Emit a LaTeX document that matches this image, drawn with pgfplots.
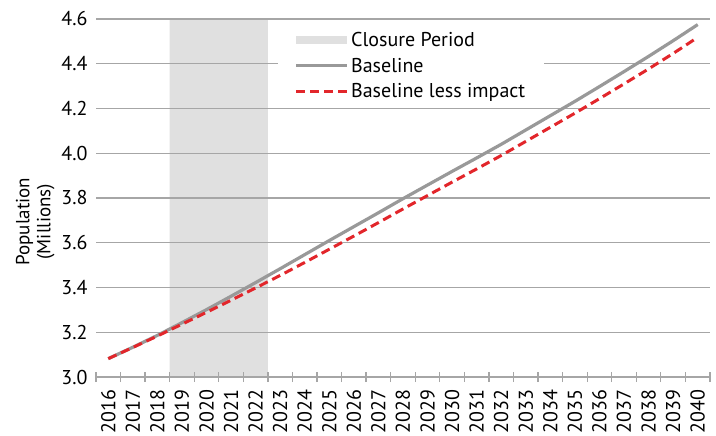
\documentclass[border=0pt]{standalone}
\usepackage{pgfplots}
\pgfplotsset{compat=1.18}
\usepackage{pgfplotstable}
\usepackage{fontspec}
\setmainfont{PT Sans}

\definecolor{closuregray}{HTML}{E0E0E0}
\definecolor{gridgray}{HTML}{A6A6A6}
\definecolor{basegray}{HTML}{999999}
\definecolor{impactred}{HTML}{E2262B}

% year, baseline, baseline less impact (millions)
\pgfplotstableread{
year base impact
2016 3.082 3.082
2017 3.133 3.132
2018 3.186 3.183
2019 3.243 3.236
2020 3.301 3.289
2021 3.361 3.343
2022 3.422 3.398
2023 3.484 3.454
2024 3.547 3.512
2025 3.610 3.571
2026 3.672 3.630
2027 3.734 3.690
2028 3.797 3.751
2029 3.858 3.811
2030 3.919 3.871
2031 3.979 3.930
2032 4.040 3.990
2033 4.104 4.053
2034 4.168 4.116
2035 4.232 4.179
2036 4.298 4.244
2037 4.365 4.310
2038 4.433 4.377
2039 4.503 4.446
2040 4.575 4.518
}\popdata

\begin{document}
\begin{tikzpicture}[font=\fontsize{20bp}{24bp}\selectfont]
\begin{axis}[
    set layers,
    scale only axis,
    width=614bp, height=358bp,
    at={(0,0)}, anchor=south west,
    xmin=2015.5, xmax=2040.5,
    ymin=3.0, ymax=4.6,
    axis line style={draw=none},
    xtick={2016,...,2040},
    minor xtick={2015.5,2016.5,...,2040.5},
    major tick length=0pt,
    minor tick length=10bp,
    tick align=center,
    xtick pos=bottom,
    minor x tick style={gridgray, line width=1.3bp},
    tick label style={font=\fontsize{20bp}{24bp}\selectfont},
    xticklabel style={rotate=90, anchor=east,
        /pgf/number format/1000 sep={}},
    xticklabel shift=9bp,
    ytick={3.0,3.2,...,4.6},
    ytick style={draw=none},
    yticklabel style={/pgf/number format/.cd, fixed, fixed zerofill, precision=1},
    yticklabel shift=5bp,
    /pgf/number format/assume math mode=true,
    ymajorgrids,
    major grid style={gridgray, line width=1.3bp},
    ylabel={Population\\(Millions)},
    ylabel style={at={(ticklabel cs:0.434)}, align=center,
        font=\fontsize{19bp}{21bp}\selectfont},
    legend cell align=left,
    legend style={at={(0.296,0.975)}, anchor=north west, draw=none, fill=white,
        inner xsep=16.5bp, inner ysep=3bp, row sep=8bp,
        font=\fontsize{20bp}{24bp}\selectfont,
        nodes={inner ysep=1bp, inner xsep=2.5bp}},
]
\addplot [fill=closuregray, draw=none, on layer=axis background,
    legend image code/.code={\fill[closuregray] (0bp,-4bp) rectangle (51bp,4bp);}]
    coordinates {(2018.5,3.0) (2018.5,4.6) (2022.5,4.6) (2022.5,3.0)} \closedcycle;
\addlegendentry{Closure Period}
\addplot [basegray, line width=3.2bp,
    legend image code/.code={\draw[basegray, line width=3.2bp] (0bp,0bp) -- (51bp,0bp);}]
    table [x=year, y=base] {\popdata};
\addlegendentry{Baseline}
\addplot [impactred, line width=3bp, dash pattern=on 9bp off 5bp,
    legend image code/.code={\draw[impactred, line width=3bp, dash pattern=on 9bp off 5bp] (0bp,0bp) -- (51bp,0bp);}]
    table [x=year, y=impact] {\popdata};
\addlegendentry{Baseline less impact}
\end{axis}
\pgfresetboundingbox
\useasboundingbox (-96bp,-59bp) rectangle (620bp,377bp);
\end{tikzpicture}
\end{document}
